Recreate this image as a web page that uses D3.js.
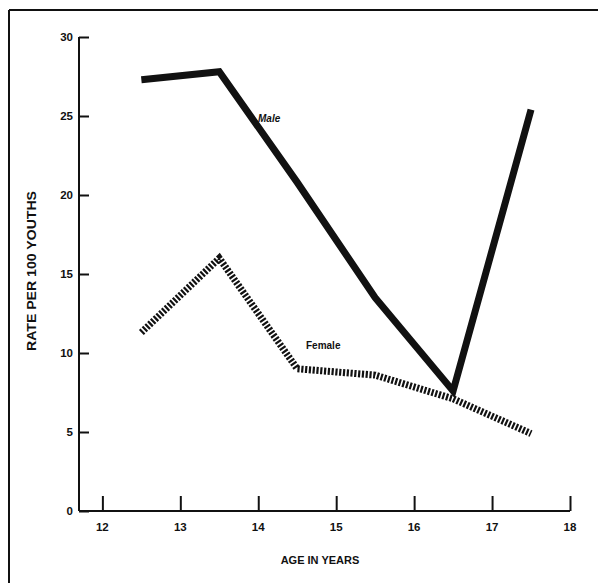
<!DOCTYPE html>
<html><head><meta charset="utf-8">
<script src="https://cdn.jsdelivr.net/npm/d3@7"></script>
<style>body{margin:0;background:#fff}svg{display:block}text{font-family:"Liberation Sans",Arial,sans-serif;font-weight:bold;fill:#111}</style>
</head><body><svg id="c" width="598" height="583"></svg>
<script>
const ages = [12.5, 13.5, 14.5, 15.5, 16.5, 17.5];
const male = [27.3, 27.8, 20.8, 13.5, 7.6, 25.4];
const female = [11.3, 16.0, 9.0, 8.6, 7.1, 4.9];
const xTicks = [12, 13, 14, 15, 16, 17, 18];
const yTicks = [0, 5, 10, 15, 20, 25, 30];

const svg = d3.select("#c");
const x = d3.scaleLinear().domain([11.7, 18]).range([79, 570]);
const y = d3.scaleLinear().domain([0, 30]).range([511, 37]);

// frame
svg.append("line").attr("x1",9).attr("x2",598).attr("y1",10).attr("y2",10).attr("stroke","#111").attr("stroke-width",2);
svg.append("line").attr("x1",9).attr("x2",9).attr("y1",10).attr("y2",583).attr("stroke","#111").attr("stroke-width",2);

// y axis
const ya = svg.append("g").attr("transform","translate(79,0)")
  .call(d3.axisRight(y).tickValues(yTicks).tickSize(10).tickFormat(""));
ya.select(".domain").attr("stroke","#111").attr("stroke-width",2).attr("d","M0,"+y(30)+"V"+y(0));
ya.selectAll(".tick line").attr("stroke","#111").attr("stroke-width",2);
svg.append("g").selectAll("text").data(yTicks).join("text")
  .attr("x",73).attr("y",d=>y(d)).attr("dy","0.35em").attr("text-anchor","end")
  .attr("font-size",11.5).text(d=>d);

// x axis
const xa = svg.append("g").attr("transform","translate(0,511)")
  .call(d3.axisTop(x).tickValues(xTicks).tickSize(15).tickFormat(""));
xa.select(".domain").attr("stroke","#111").attr("stroke-width",2).attr("d","M79,0H"+x(18));
xa.selectAll(".tick line").attr("stroke","#111").attr("stroke-width",2);
svg.append("g").selectAll("text").data(xTicks).join("text")
  .attr("x",d=>x(d)).attr("y",527).attr("dy","0.35em").attr("text-anchor","middle")
  .attr("font-size",11.5).text(d=>d);

// titles
svg.append("text").attr("x",320).attr("y",564).attr("text-anchor","middle").attr("font-size",11).text("AGE IN YEARS");
svg.append("text").attr("transform","translate(36,271) rotate(-90)").attr("text-anchor","middle").attr("font-size",12)
  .attr("textLength",160).attr("lengthAdjust","spacingAndGlyphs").text("RATE PER 100 YOUTHS");

const line = d3.line().x(d=>x(d[0])).y(d=>y(d[1]));
svg.append("path").datum(ages.map((a,i)=>[a,female[i]])).attr("d",line)
  .attr("fill","none").attr("stroke","#111").attr("stroke-width",7).attr("stroke-dasharray","2.2,1.6");
svg.append("path").datum(ages.map((a,i)=>[a,male[i]])).attr("d",line)
  .attr("fill","none").attr("stroke","#111").attr("stroke-width",7).attr("stroke-linejoin","miter");

svg.append("text").attr("x",258).attr("y",122).attr("font-size",10).attr("font-style","italic").text("Male");
svg.append("text").attr("x",306).attr("y",349).attr("font-size",10).text("Female");
</script></body></html>
